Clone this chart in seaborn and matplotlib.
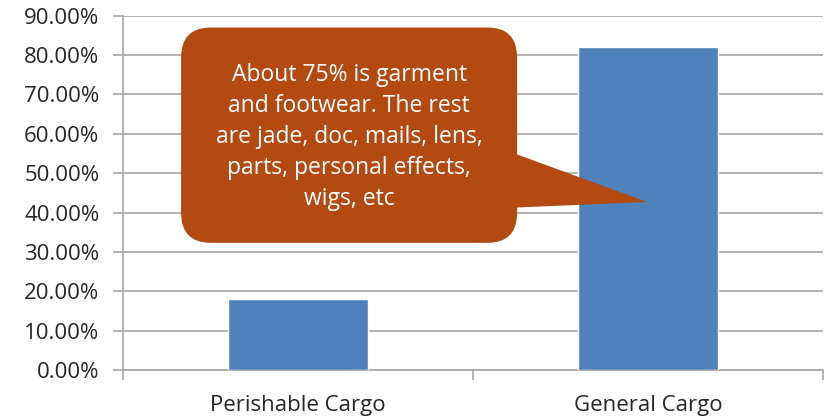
import matplotlib
matplotlib.use("Agg")
import matplotlib.pyplot as plt
import seaborn as sns
import pandas as pd
from matplotlib.patches import FancyBboxPatch, Polygon
from matplotlib.ticker import FuncFormatter, MultipleLocator, FixedLocator

categories = ["Perishable Cargo", "General Cargo"]
values = [18.0, 82.0]
callout_text = ("About 75% is garment\nand footwear. The rest\nare jade, doc, mails, lens,\n"
                "parts, personal effects,\nwigs, etc")

sns.set_theme(style="white")
plt.rcParams["font.family"] = ["Open Sans", "DejaVu Sans"]

df = pd.DataFrame({"category": categories, "value": values})

fig = plt.figure(figsize=(8.31, 4.19), dpi=100)
ax = fig.add_axes([123/831, 49/419, 700/831, (370-15.7)/419])

sns.barplot(data=df, x="category", y="value", color="#4F81BD", width=0.4,
            saturation=1, ax=ax, zorder=3)

ax.set_xlim(-0.5, 1.5)
ax.set_ylim(0, 90)
ax.yaxis.set_major_locator(MultipleLocator(10))
ax.yaxis.set_major_formatter(FuncFormatter(lambda v, p: f"{v:.2f}%"))
ax.grid(axis="y", color="#A6A6A6", linewidth=1.2, zorder=0)
ax.set_axisbelow(True)
ax.set_xlabel("")
ax.set_ylabel("")

for s in ["top", "right"]:
    ax.spines[s].set_visible(False)
for s in ["left", "bottom"]:
    ax.spines[s].set_color("#A6A6A6")
    ax.spines[s].set_linewidth(1.2)

ax.tick_params(axis="y", which="major", length=7, width=1.2, color="#A6A6A6",
               labelsize=16, labelcolor="#262626", pad=10, left=True)
ax.tick_params(axis="x", which="major", length=0, labelsize=16,
               labelcolor="#262626", pad=18)
ax.xaxis.set_minor_locator(FixedLocator([-0.5, 0.5, 1.5]))
ax.tick_params(axis="x", which="minor", length=7, width=1.2, color="#A6A6A6",
               bottom=True)

# callout (speech bubble) in data coordinates
orange = "#B34A12"
bx0, bx1 = -0.334, 0.626
by0, by1 = 32.3, 87.0
r = 0.085
aspect = (30/3.933) / r
box = FancyBboxPatch((bx0, by0), bx1 - bx0, by1 - by0,
                     boxstyle=f"round,pad=0,rounding_size={r}",
                     mutation_aspect=aspect, facecolor=orange,
                     edgecolor="none", zorder=5, clip_on=False)
ax.add_patch(box)
tri = Polygon([(bx1 - 0.02, 55.4), (0.997, 42.7), (bx1 - 0.02, 41.2)],
              closed=True, facecolor=orange, edgecolor="none", zorder=5)
ax.add_patch(tri)
ax.text((bx0 + bx1) / 2, 59.2, callout_text, ha="center", va="center",
        color="white", fontsize=16.5, linespacing=1.4, zorder=6)

fig.savefig("out.png", dpi=100, facecolor="white")
